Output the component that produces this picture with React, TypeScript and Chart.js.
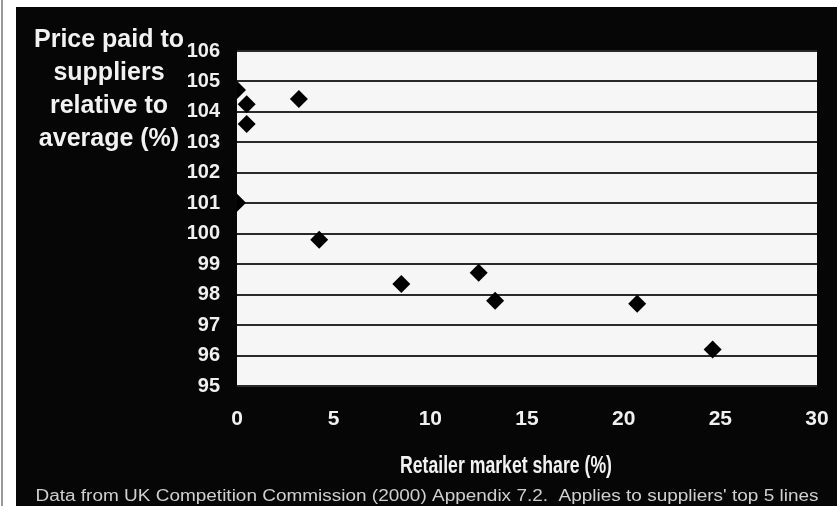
import React, { useEffect, useRef } from "react";
import { Chart, registerables } from "chart.js";

Chart.register(...registerables);

const marketShare: number[] = [0, 0.5, 0.5, 3.2, 0, 4.25, 8.5, 12.5, 13.35, 20.7, 24.6];
const pricePaid: number[] = [104.72, 104.25, 103.6, 104.42, 101.02, 99.8, 98.35, 98.72, 97.8, 97.7, 96.2];

const yTitleLines: string[] = ["Price paid to", "suppliers", "relative to", "average (%)"];
const xTitle = "Retailer market share (%)";
const footer = "Data from UK Competition Commission (2000) Appendix 7.2.  Applies to suppliers' top 5 lines";

const W = 837;
const H = 506;

function fitText(ctx: CanvasRenderingContext2D, text: string, cx: number, y: number, targetW: number) {
  const m = ctx.measureText(text).width;
  const s = targetW / m;
  ctx.save();
  ctx.translate(cx, y);
  ctx.scale(s, 1);
  ctx.textAlign = "center";
  ctx.fillText(text, 0, 0);
  ctx.restore();
}

const decorPlugin = {
  id: "decor",
  beforeDraw(chart: any) {
    const { ctx, chartArea } = chart;
    ctx.save();
    ctx.fillStyle = "#ffffff";
    ctx.fillRect(0, 0, W, H);
    ctx.fillStyle = "#999999";
    ctx.fillRect(1, 0, 2, H);
    ctx.fillStyle = "#060606";
    ctx.fillRect(16, 7, W - 16, H - 7);
    ctx.fillStyle = "#f6f6f6";
    ctx.fillRect(chartArea.left, chartArea.top, chartArea.right - chartArea.left, chartArea.bottom - chartArea.top);
    ctx.restore();
  },
  afterDraw(chart: any) {
    const { ctx } = chart;
    ctx.save();
    ctx.fillStyle = "#f2f2f2";
    ctx.textBaseline = "alphabetic";
    ctx.textAlign = "center";
    ctx.font = "bold 25px 'Liberation Sans', Arial, sans-serif";
    yTitleLines.forEach((line, i) => {
      ctx.fillText(line, 109, 47 + i * 33);
    });
    ctx.font = "bold 23px 'Liberation Sans', Arial, sans-serif";
    fitText(ctx, xTitle, 506, 473, 212);
    ctx.fillStyle = "#cfcfcf";
    ctx.font = "16px 'Liberation Sans', Arial, sans-serif";
    fitText(ctx, footer, 427, 501, 783);
    ctx.restore();
  },
};

export default function App() {
  const ref = useRef<HTMLCanvasElement | null>(null);
  useEffect(() => {
    if (!ref.current) return;
    const chart = new Chart(ref.current, {
      type: "scatter",
      data: {
        datasets: [
          {
            label: "Suppliers",
            data: marketShare.map((x, i) => ({ x, y: pricePaid[i] })),
            pointStyle: "rectRot",
            pointRadius: 9,
            pointHoverRadius: 9,
            backgroundColor: "#000000",
            borderWidth: 0,
          },
        ],
      },
      options: {
        responsive: false,
        animation: false,
        devicePixelRatio: 1,
        layout: { padding: { top: 51, right: 20, bottom: 0, left: 0 } },
        plugins: {
          legend: { display: false },
          tooltip: { enabled: false },
          title: { display: false },
        },
        scales: {
          x: {
            type: "linear",
            min: 0,
            max: 30,
            grid: { display: false, drawTicks: false },
            border: { display: false },
            ticks: {
              stepSize: 5,
              padding: 21,
              color: "#f0f0f0",
              font: { family: "'Liberation Sans', Arial, sans-serif", size: 21, weight: "bold" },
            },
            afterFit: (scale: any) => {
              scale.height = 120;
              scale.paddingLeft = 0;
              scale.paddingRight = 0;
            },
          },
          y: {
            type: "linear",
            min: 95,
            max: 106,
            grid: { color: "#2a2a2a", lineWidth: 2, drawTicks: false },
            border: { display: false },
            ticks: {
              stepSize: 1,
              padding: 17,
              color: "#f0f0f0",
              font: { family: "'Liberation Sans', Arial, sans-serif", size: 20, weight: "bold" },
            },
            afterFit: (scale: any) => {
              scale.width = 237;
              scale.paddingTop = 0;
              scale.paddingBottom = 0;
            },
          },
        },
      },
      plugins: [decorPlugin],
    });
    return () => chart.destroy();
  }, []);
  return (
    <div style={{ position: "absolute", left: 0, top: 0, width: W, height: H }}>
      <canvas ref={ref} width={W} height={H} style={{ width: W, height: H, display: "block" }} />
    </div>
  );
}
